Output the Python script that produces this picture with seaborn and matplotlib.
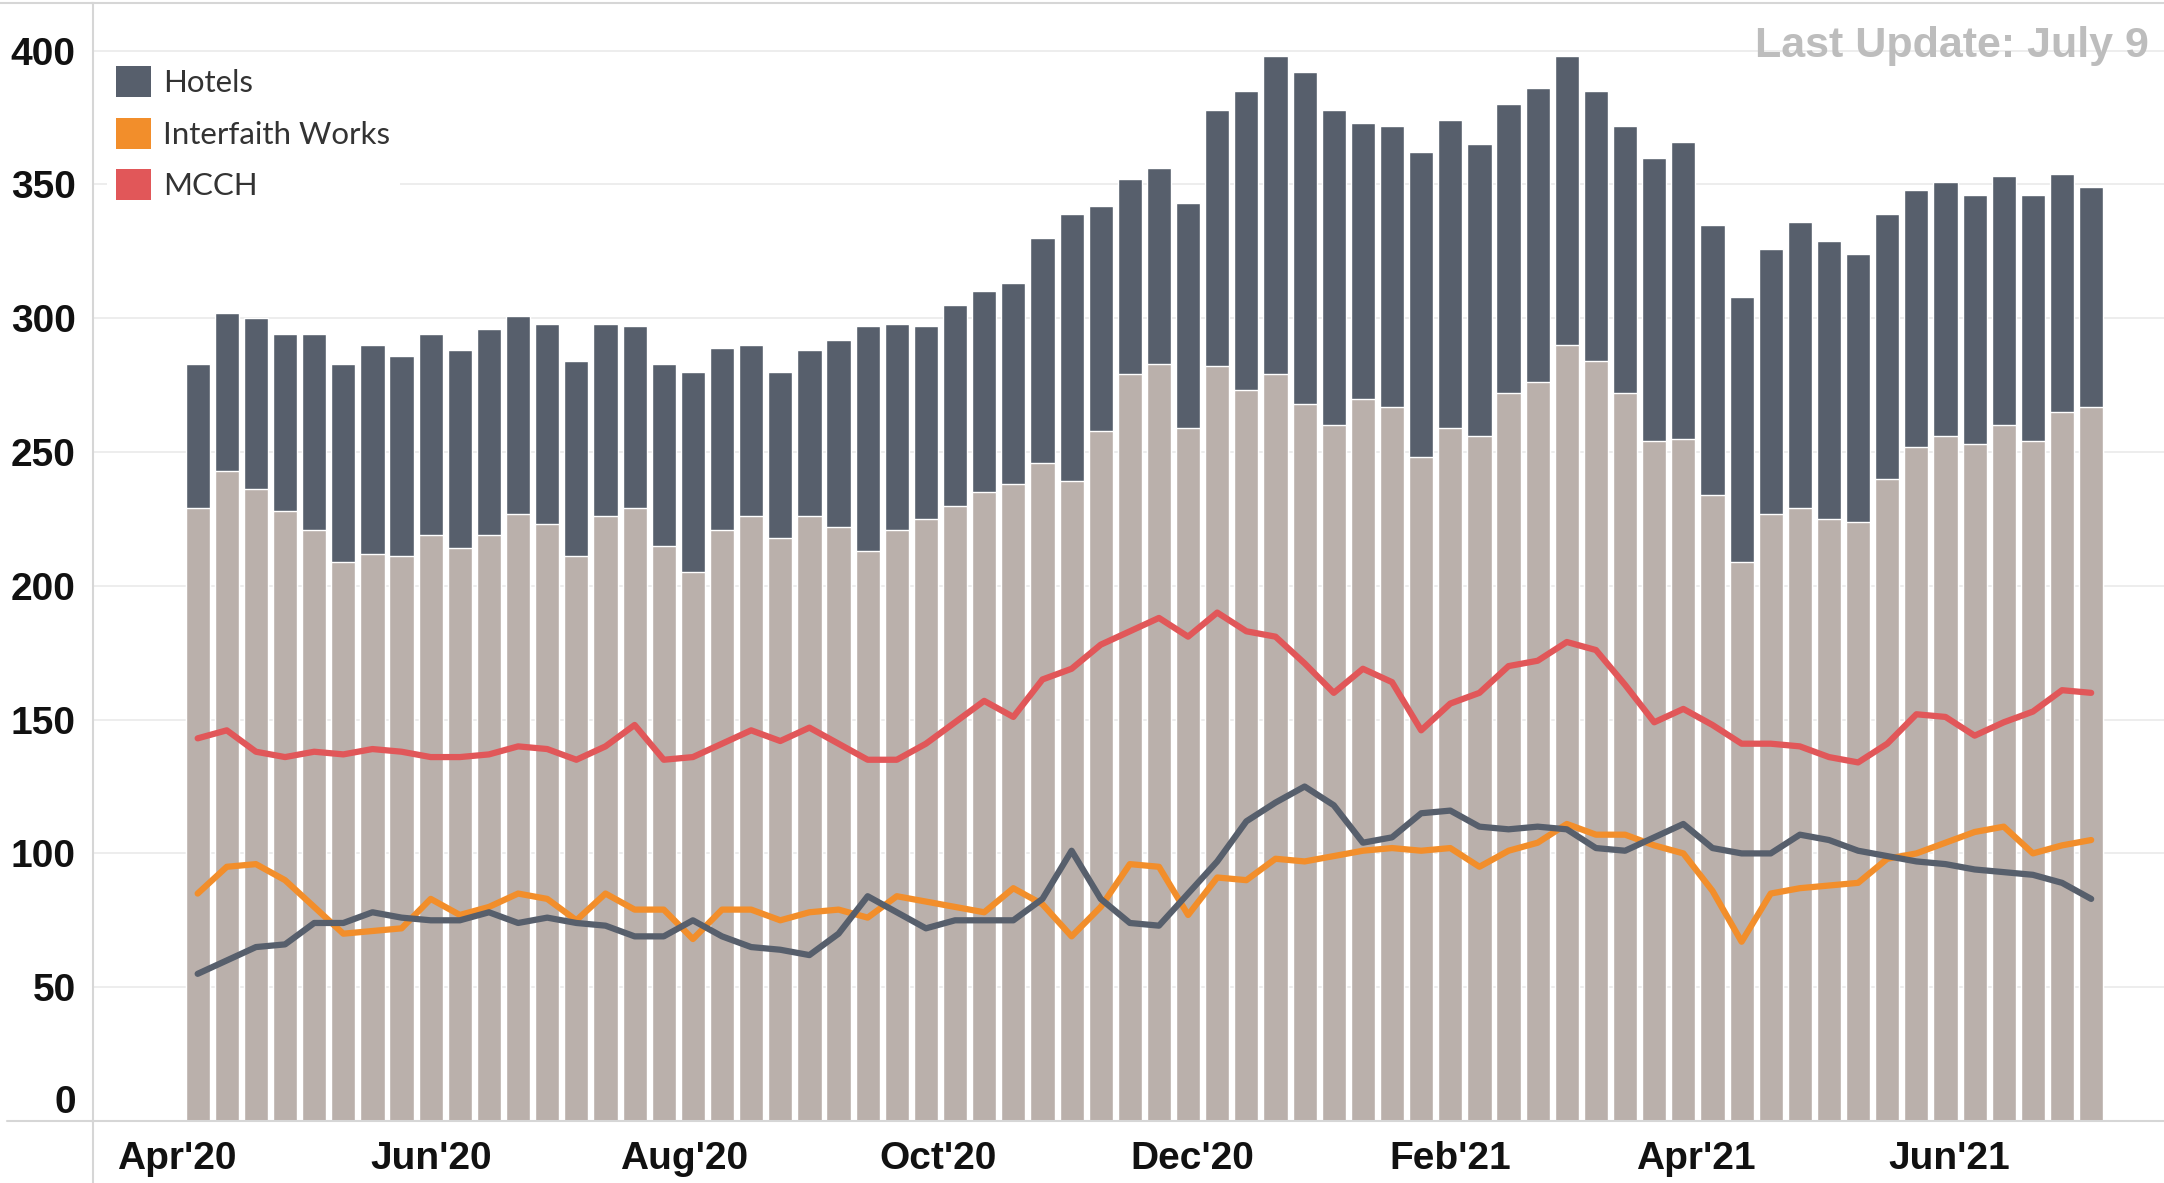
import pandas as pd
import numpy as np
import matplotlib
matplotlib.use('Agg')
import matplotlib.pyplot as plt
from matplotlib.patches import Patch
from matplotlib.lines import Line2D
from matplotlib import font_manager
import seaborn as sns

# weekly counts, first week starting Apr 6 2020
first_week = '2020-04-06'

total = [283, 302, 300, 294, 294, 283, 290, 286, 294, 288,
         296, 301, 298, 284, 298, 297, 283, 280, 289, 290,
         280, 288, 292, 297, 298, 297, 305, 310, 313, 330,
         339, 342, 352, 356, 343, 378, 385, 398, 392, 378,
         373, 372, 362, 374, 365, 380, 386, 398, 385, 372,
         360, 366, 335, 308, 326, 336, 329, 324, 339, 348,
         351, 346, 353, 346, 354, 349]

shelters = [229, 243, 236, 228, 221, 209, 212, 211, 219, 214,
            219, 227, 223, 211, 226, 229, 215, 205, 221, 226,
            218, 226, 222, 213, 221, 225, 230, 235, 238, 246,
            239, 258, 279, 283, 259, 282, 273, 279, 268, 260,
            270, 267, 248, 259, 256, 272, 276, 290, 284, 272,
            254, 255, 234, 209, 227, 229, 225, 224, 240, 252,
            256, 253, 260, 254, 265, 267]

mcch = [143, 146, 138, 136, 138, 137, 139, 138, 136, 136,
        137, 140, 139, 135, 140, 148, 135, 136, 141, 146,
        142, 147, 141, 135, 135, 141, 149, 157, 151, 165,
        169, 178, 183, 188, 181, 190, 183, 181, 171, 160,
        169, 164, 146, 156, 160, 170, 172, 179, 176, 163,
        149, 154, 148, 141, 141, 140, 136, 134, 141, 152,
        151, 144, 149, 153, 161, 160]

interfaith = [85, 95, 96, 90, 80, 70, 71, 72, 83, 77,
              80, 85, 83, 75, 85, 79, 79, 68, 79, 79,
              75, 78, 79, 76, 84, 82, 80, 78, 87, 81,
              69, 80, 96, 95, 77, 91, 90, 98, 97, 99,
              101, 102, 101, 102, 95, 101, 104, 111, 107, 107,
              103, 100, 86, 67, 85, 87, 88, 89, 98, 100,
              104, 108, 110, 100, 103, 105]

hotels = [55, 60, 65, 66, 74, 74, 78, 76, 75, 75,
          78, 74, 76, 74, 73, 69, 69, 75, 69, 65,
          64, 62, 70, 84, 78, 72, 75, 75, 75, 83,
          101, 83, 74, 73, 85, 97, 112, 119, 125, 118,
          104, 106, 115, 116, 110, 109, 110, 109, 102, 101,
          106, 111, 102, 100, 100, 107, 105, 101, 99, 97,
          96, 94, 93, 92, 89, 83]

legend_labels = ['Hotels', 'Interfaith Works', 'MCCH']
y_ticks = [0, 50, 100, 150, 200, 250, 300, 350, 400]

dark = '#575f6c'
taupe = '#bab0ab'
red = '#e15759'
orange = '#f28e2b'
frame = '#d6d6d6'

sns.set_style('white')
names = {f.name for f in font_manager.fontManager.ttflist}
cond_font = 'Liberation Sans' if 'Liberation Sans' in names else 'DejaVu Sans'
leg_font = 'Lato' if 'Lato' in names else 'DejaVu Sans'
plt.rcParams['font.family'] = [cond_font, 'DejaVu Sans']

df = pd.DataFrame({'week': np.arange(len(total)), 'total': total, 'shelters': shelters,
                   'MCCH': mcch, 'Interfaith': interfaith, 'Hotels': hotels})

W, H = 2164, 1183
fig = plt.figure(figsize=(W / 100, H / 100), dpi=100)
ax_left, ax_bottom = 92.5 / W, (H - 1121) / H
ax = fig.add_axes([ax_left, ax_bottom, 1 - ax_left, 1 - 3 / H - ax_bottom])

# stacked bars: hotels part on top of shelter part
sns.barplot(data=df, x='week', y='total', native_scale=True, color=dark, saturation=1,
            width=0.83, errorbar=None, ax=ax, zorder=2)
sns.barplot(data=df, x='week', y='shelters', native_scale=True, color=taupe, saturation=1,
            width=0.83, errorbar=None, ax=ax, zorder=2)

for col, c in [('MCCH', red), ('Interfaith', orange), ('Hotels', dark)]:
    sns.lineplot(data=df, x='week', y=col, color=c, linewidth=4.5, ax=ax, zorder=3,
                 solid_joinstyle='round', solid_capstyle='round')

ax.set_xlim(-3.61, 67.5)
ax.set_ylim(0, 417.8)
ax.set_xlabel('')
ax.set_ylabel('')

# month ticks, label every other month
months = pd.date_range('2020-04-01', '2021-07-01', freq='MS')
month_pos = (months - pd.Timestamp(first_week)).days / 7
month_lab = [m.strftime("%b'%y") if i % 2 == 0 else '' for i, m in enumerate(months)]
ax.set_xticks(month_pos)
ax.set_xticklabels(month_lab)
ax.set_yticks(y_ticks)
ax.set_yticklabels([str(v) for v in y_ticks])

ax.tick_params(axis='x', length=4.5, width=1, color=frame, pad=10, labelsize=28)
ax.tick_params(axis='y', length=0, pad=12, labelsize=28)
for lab in ax.get_xticklabels() + ax.get_yticklabels():
    lab.set_fontweight('bold')
    lab.set_color('#111111')
ax.get_yticklabels()[0].set_verticalalignment('bottom')

ax.yaxis.grid(True, color='#ececec', linewidth=1.3)
ax.xaxis.grid(False)
ax.set_axisbelow(True)
for side in ['left', 'bottom', 'top']:
    ax.spines[side].set_color(frame)
    ax.spines[side].set_linewidth(1.5)
ax.spines['right'].set_visible(False)

# frame lines running past the plot area
fig.add_artist(Line2D([7 / W, ax_left], [ax_bottom, ax_bottom], color=frame, lw=1.5))
fig.add_artist(Line2D([ax_left, ax_left], [0, ax_bottom], color=frame, lw=1.5))
fig.add_artist(Line2D([0, ax_left], [1 - 3 / H, 1 - 3 / H], color=frame, lw=1.5))

handles = [Patch(facecolor=c, edgecolor='none') for c in [dark, orange, red]]
leg = ax.legend(handles, legend_labels, loc='upper left', bbox_to_anchor=(0.007, 0.9517),
                frameon=True, facecolor='white', edgecolor='none', framealpha=1, fancybox=False,
                prop={'family': leg_font, 'size': 22.5}, handlelength=1.1, handleheight=1.15,
                handletextpad=0.4, labelspacing=0.65, borderpad=0.3, borderaxespad=0)
for t in leg.get_texts():
    t.set_color('#333333')

fig.text(2149 / W, 1 - 57 / H, 'Last Update: July 9', ha='right', va='baseline',
         fontsize=31, fontweight='bold', color='#bdbdbd')

fig.savefig('out.png', dpi=100)
